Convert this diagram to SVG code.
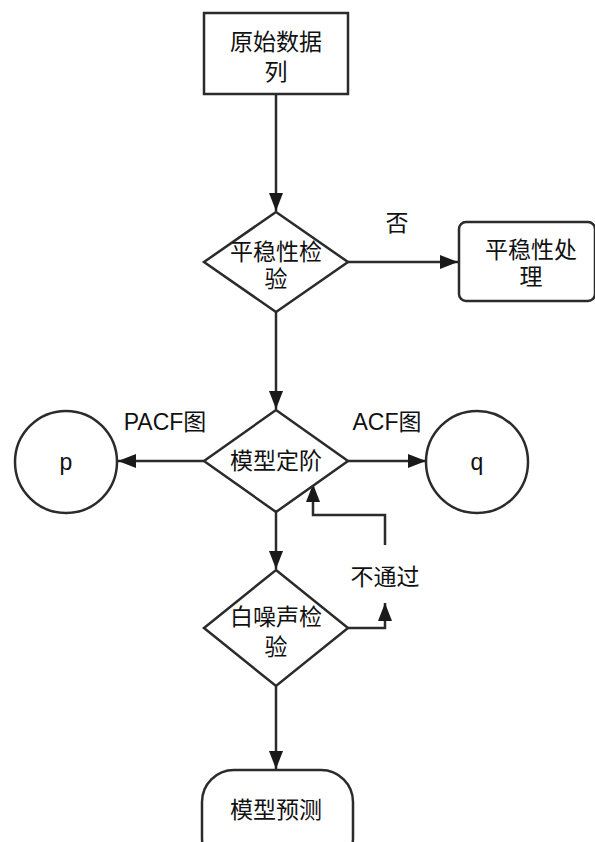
<svg xmlns="http://www.w3.org/2000/svg" width="595" height="842" viewBox="0 0 595 842">
<style>
.s{fill:#fff;stroke:#2b2b2b;stroke-width:2.5}
.c{fill:none;stroke:#2b2b2b;stroke-width:2.5}
text{font-family:"Liberation Sans","Noto Sans CJK SC",sans-serif;font-size:23px;fill:#111;text-anchor:middle}
</style>
<defs>
<marker id="a" viewBox="0 0 18 14" refX="18" refY="7" markerWidth="18" markerHeight="14" markerUnits="userSpaceOnUse" orient="auto">
<path d="M0,0 L18,7 L0,14 z" fill="#1a1a1a"/>
</marker>
</defs>
<rect width="595" height="842" fill="#fff"/>
<g id="connectors">
<path class="c" d="M276,94 V211" marker-end="url(#a)"/>
<path class="c" d="M348,262 H458" marker-end="url(#a)"/>
<path class="c" d="M276,312 V409" marker-end="url(#a)"/>
<path class="c" d="M204,461 H118" marker-end="url(#a)"/>
<path class="c" d="M348,461 H426" marker-end="url(#a)"/>
<path class="c" d="M276,512 V569" marker-end="url(#a)"/>
<path class="c" d="M348,628 H385 V603" marker-end="url(#a)"/>
<path class="c" d="M385,545 V515 H313 V484" marker-end="url(#a)"/>
<path class="c" d="M276,686 V769" marker-end="url(#a)"/>
</g>
<g id="n1"><rect class="s" x="204" y="13" width="144" height="81"/><text x="276" y="50">原始数据</text><text x="276" y="80">列</text></g>
<g id="n2"><polygon class="s" points="276,212 348,262 276,312 204,262"/><text x="276" y="260">平稳性检</text><text x="276" y="287">验</text></g>
<g id="n3"><rect class="s" x="459" y="222" width="136" height="79" rx="7"/><text x="531" y="258">平稳性处</text><text x="531" y="285">理</text></g>
<g id="n4"><polygon class="s" points="276,410 348,461 276,512 204,461"/><text x="276" y="469">模型定阶</text></g>
<g id="n5"><circle class="s" cx="66" cy="462" r="51"/><text x="66" y="470">p</text></g>
<g id="n6"><circle class="s" cx="477" cy="462" r="51"/><text x="477" y="470">q</text></g>
<g id="n7"><polygon class="s" points="276,570 348,628 276,686 204,628"/><text x="276" y="625">白噪声检</text><text x="276" y="655">验</text></g>
<g id="n8"><rect class="s" x="202" y="770" width="151" height="100" rx="32"/><text x="276" y="818">模型预测</text></g>
<g id="labels">
<text x="397" y="231">否</text>
<text x="165" y="430">PACF图</text>
<text x="387" y="430">ACF图</text>
<text x="385" y="585">不通过</text>
</g>
</svg>
